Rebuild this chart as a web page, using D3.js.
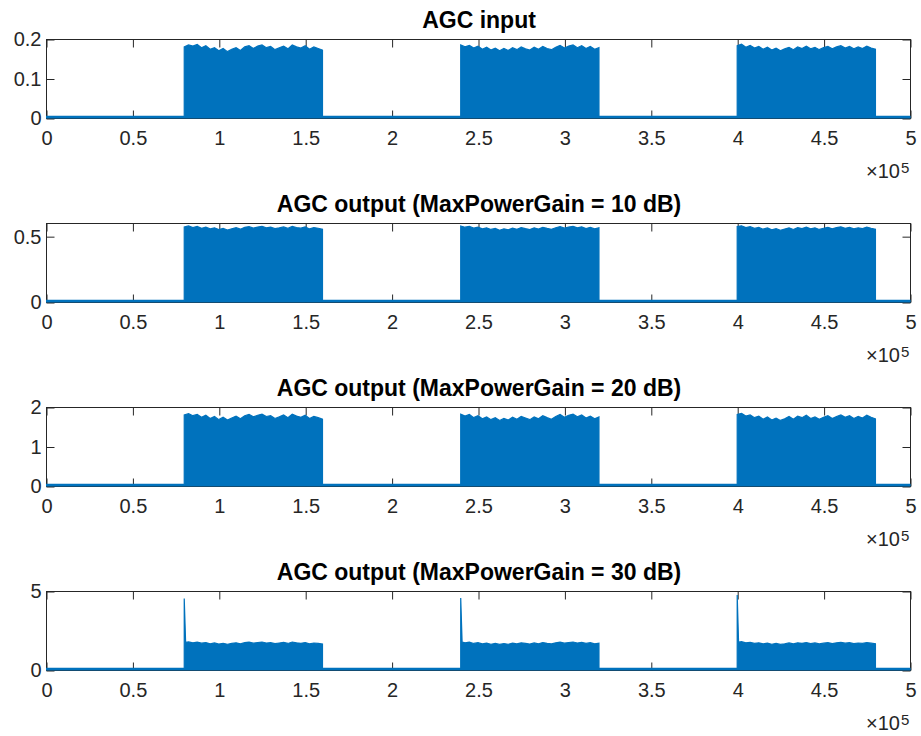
<!DOCTYPE html>
<html>
<head>
<meta charset="utf-8">
<script src="https://cdn.jsdelivr.net/npm/d3@7"></script>
<style>
  html, body { margin: 0; padding: 0; background: #fff; }
  svg { display: block; }
</style>
</head>
<body>
<script>
// ---------- data ----------
const titles = [
  "AGC input",
  "AGC output (MaxPowerGain = 10 dB)",
  "AGC output (MaxPowerGain = 20 dB)",
  "AGC output (MaxPowerGain = 30 dB)"
];
const yMax = [0.2, 0.6, 2, 5];
const yTicks = [[0, 0.1, 0.2], [0, 0.5], [0, 1, 2], [0, 5]];
const yTickLabels = [["0", "0.1", "0.2"], ["0", "0.5"], ["0", "1", "2"], ["0", "5"]];
const xTicks = [0, 50000, 100000, 150000, 200000, 250000, 300000, 350000, 400000, 450000, 500000];
const xTickLabels = ["0", "0.5", "1", "1.5", "2", "2.5", "3", "3.5", "4", "4.5", "5"];
const xMax = 500000;

const burstStart = [80000, 240000, 400000];
const burstEnd = [160000, 320000, 480000];

// noise floor level between bursts, per panel
const floorLevel = [0.004, 0.012, 0.04, 0.1];
// initial spike at each burst start (30 dB panel only)
const spikePeak = [null, null, null, [4.52, 4.55, 4.75]];

// envelope (peak values) across each burst, per panel
const env1b1 = [0.180,0.185,0.182,0.186,0.178,0.183,0.174,0.178,0.170,0.176,0.168,0.174,0.178,0.171,0.180,0.183,0.176,0.182,0.185,0.178,0.181,0.173,0.178,0.182,0.175,0.185,0.180,0.177,0.183,0.174,0.180,0.176,0.172];
const env1b2 = [0.185,0.180,0.184,0.177,0.182,0.174,0.179,0.172,0.177,0.170,0.176,0.171,0.178,0.173,0.180,0.175,0.172,0.179,0.174,0.181,0.176,0.173,0.179,0.184,0.177,0.182,0.185,0.178,0.183,0.176,0.181,0.174,0.178];
const env1b3 = [0.183,0.187,0.179,0.184,0.177,0.181,0.174,0.179,0.172,0.177,0.170,0.175,0.179,0.173,0.180,0.176,0.182,0.175,0.179,0.173,0.178,0.181,0.175,0.180,0.183,0.177,0.181,0.175,0.180,0.176,0.182,0.177,0.174];

const env2b1 = [0.570,0.578,0.565,0.574,0.560,0.568,0.555,0.563,0.550,0.559,0.547,0.556,0.564,0.553,0.567,0.572,0.561,0.569,0.575,0.564,0.568,0.557,0.563,0.570,0.559,0.574,0.566,0.561,0.571,0.555,0.565,0.560,0.553];
const env2b2 = [0.577,0.568,0.574,0.561,0.569,0.555,0.563,0.551,0.559,0.545,0.556,0.548,0.561,0.552,0.565,0.557,0.550,0.563,0.554,0.567,0.559,0.552,0.564,0.573,0.561,0.569,0.575,0.563,0.571,0.558,0.567,0.555,0.563];
const env2b3 = [0.573,0.579,0.565,0.572,0.559,0.566,0.553,0.562,0.548,0.557,0.545,0.554,0.563,0.551,0.565,0.558,0.569,0.556,0.563,0.551,0.560,0.567,0.556,0.565,0.571,0.560,0.567,0.555,0.564,0.558,0.569,0.560,0.553];

const env3b1 = [1.80,1.83,1.78,1.81,1.74,1.79,1.71,1.76,1.68,1.74,1.67,1.72,1.77,1.70,1.78,1.81,1.75,1.79,1.82,1.76,1.78,1.71,1.75,1.80,1.73,1.82,1.77,1.74,1.79,1.71,1.76,1.73,1.69];
const env3b2 = [1.82,1.77,1.81,1.73,1.78,1.70,1.75,1.68,1.73,1.66,1.71,1.67,1.74,1.69,1.76,1.72,1.68,1.75,1.70,1.78,1.73,1.69,1.76,1.81,1.74,1.79,1.82,1.75,1.80,1.72,1.77,1.70,1.75];
const env3b3 = [1.81,1.84,1.77,1.80,1.73,1.77,1.69,1.75,1.67,1.72,1.66,1.70,1.76,1.69,1.77,1.73,1.79,1.71,1.75,1.69,1.74,1.78,1.71,1.76,1.80,1.74,1.78,1.71,1.76,1.72,1.79,1.74,1.70];

const env4b1 = [1.75,1.78,1.72,1.76,1.70,1.74,1.66,1.71,1.64,1.69,1.63,1.68,1.72,1.66,1.73,1.76,1.70,1.74,1.77,1.71,1.73,1.67,1.71,1.75,1.68,1.77,1.72,1.69,1.74,1.66,1.71,1.68,1.65];
const env4b2 = [1.77,1.72,1.76,1.68,1.73,1.65,1.70,1.63,1.68,1.62,1.67,1.63,1.70,1.65,1.72,1.68,1.64,1.71,1.66,1.74,1.69,1.65,1.72,1.76,1.70,1.74,1.77,1.71,1.75,1.68,1.73,1.66,1.70];
const env4b3 = [1.76,1.79,1.72,1.75,1.68,1.72,1.65,1.70,1.63,1.68,1.62,1.66,1.71,1.65,1.72,1.69,1.74,1.67,1.71,1.65,1.70,1.73,1.67,1.72,1.75,1.70,1.73,1.67,1.71,1.68,1.74,1.70,1.66];

const envelopes = [
  [env1b1, env1b2, env1b3],
  [env2b1, env2b2, env2b3],
  [env3b1, env3b2, env3b3],
  [env4b1, env4b2, env4b3]
];

// ---------- layout ----------
const W = 921, H = 736;
const left = 46, right = 910;
const panelTop0 = 39, panelStep = 184, panelH = 79;
const blue = "#0072BD";
const axisColor = "#262626";
const fontFam = "'Liberation Sans', Arial, Helvetica, sans-serif";

const svg = d3.select("body").append("svg")
  .attr("width", W).attr("height", H)
  .attr("viewBox", `0 0 ${W} ${H}`);

const x = d3.scaleLinear().domain([0, xMax]).range([left, right]);

titles.forEach((title, i) => {
  const top = panelTop0 + i * panelStep;
  const bottom = top + panelH;
  const y = d3.scaleLinear().domain([0, yMax[i]]).range([bottom, top]);
  const g = svg.append("g");

  const clipId = "clip" + i;
  svg.append("clipPath").attr("id", clipId)
    .append("rect").attr("x", left).attr("y", top).attr("width", right - left + 1).attr("height", panelH + 1);

  g.append("rect")
    .attr("x", left + 0.5).attr("y", top + 0.5)
    .attr("width", right - left).attr("height", panelH)
    .attr("fill", "none").attr("stroke", axisColor).attr("stroke-width", 1);

  const tickLen = 8;
  const fontTick = 20;

  const xb = g.append("g").attr("transform", `translate(0.5,${bottom + 0.5})`)
    .call(d3.axisBottom(x).tickValues(xTicks).tickSizeInner(-tickLen).tickSizeOuter(0)
      .tickPadding(12).tickFormat((d, k) => xTickLabels[k]));
  const xt = g.append("g").attr("transform", `translate(0.5,${top + 0.5})`)
    .call(d3.axisTop(x).tickValues(xTicks).tickSizeInner(-tickLen).tickSizeOuter(0).tickFormat(""));
  const yl = g.append("g").attr("transform", `translate(${left + 0.5},0.5)`)
    .call(d3.axisLeft(y).tickValues(yTicks[i]).tickSizeInner(-tickLen).tickSizeOuter(0)
      .tickPadding(5).tickFormat((d, k) => yTickLabels[i][k]));
  const yr = g.append("g").attr("transform", `translate(${right + 0.5},0.5)`)
    .call(d3.axisRight(y).tickValues(yTicks[i]).tickSizeInner(-tickLen).tickSizeOuter(0).tickFormat(""));

  [xb, xt, yl, yr].forEach(a => {
    a.select(".domain").remove();
    a.selectAll(".tick line").attr("stroke", axisColor).attr("stroke-width", 1);
    a.selectAll(".tick text")
      .attr("fill", axisColor)
      .style("font-family", fontFam)
      .style("font-size", fontTick + "px");
  });

  const pts = [[0, floorLevel[i]]];
  burstStart.forEach((s, b) => {
    const e = burstEnd[b];
    const env = envelopes[i][b];
    pts.push([s, floorLevel[i]]);
    const n = env.length;
    if (spikePeak[i]) {
      pts.push([s, spikePeak[i][b]]);
      pts.push([s + 800, env[0]]);
      for (let k = 1; k < n; k++) pts.push([s + (e - s) * k / (n - 1), env[k]]);
    } else {
      for (let k = 0; k < n; k++) pts.push([s + (e - s) * k / (n - 1), env[k]]);
    }
    pts.push([e, floorLevel[i]]);
  });
  pts.push([xMax, floorLevel[i]]);

  const area = d3.area()
    .x(d => x(d[0]))
    .y0(y(0))
    .y1(d => y(d[1]));

  svg.append("path")
    .datum(pts)
    .attr("clip-path", `url(#${clipId})`)
    .attr("d", area)
    .attr("fill", blue)
    .attr("stroke", blue)
    .attr("stroke-width", 1.2)
    .attr("stroke-linejoin", "miter");

  svg.append("text")
    .attr("x", (left + right) / 2 + 1)
    .attr("y", top - 11)
    .attr("text-anchor", "middle")
    .attr("fill", "#000")
    .style("font-family", fontFam)
    .style("font-weight", "bold")
    .style("font-size", "23px")
    .text(title);

  svg.append("text")
    .attr("x", 900)
    .attr("y", bottom + 60)
    .attr("text-anchor", "end")
    .attr("fill", axisColor)
    .style("font-family", fontFam)
    .style("font-size", "20px")
    .text("\u00D710");
  svg.append("text")
    .attr("x", 901)
    .attr("y", bottom + 55)
    .attr("text-anchor", "start")
    .attr("fill", axisColor)
    .style("font-family", fontFam)
    .style("font-size", "15px")
    .text("5");
});
</script>
</body>
</html>
